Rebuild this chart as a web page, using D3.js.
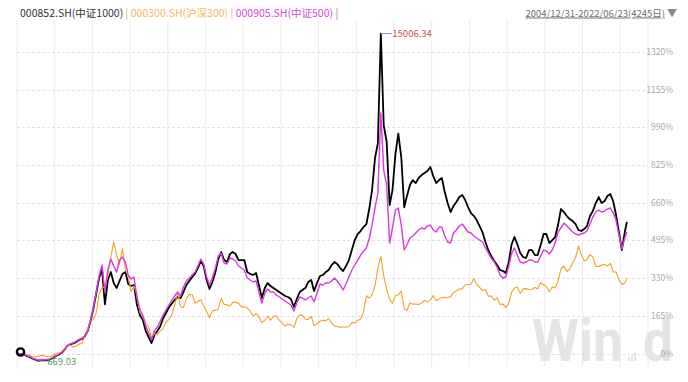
<!DOCTYPE html>
<html><head><meta charset="utf-8">
<script src="https://cdn.jsdelivr.net/npm/d3@7/dist/d3.min.js"></script>
<style>body{margin:0;background:#fff;}svg{display:block;}</style>
</head><body>
<svg id="chart" width="688" height="382"></svg>
<script>
// ---------- data ----------
const dates = [
"2005-01","2005-02","2005-03","2005-04","2005-05","2005-06","2005-07","2005-08","2005-09","2005-10","2005-11","2005-12",
"2006-01","2006-02","2006-03","2006-04","2006-05","2006-06","2006-07","2006-08","2006-09","2006-10","2006-11","2006-12",
"2007-01","2007-02","2007-03","2007-04","2007-05","2007-06","2007-07","2007-08","2007-09","2007-10","2007-11","2007-12",
"2008-01","2008-02","2008-03","2008-04","2008-05","2008-06","2008-07","2008-08","2008-09","2008-10","2008-11","2008-12",
"2009-01","2009-02","2009-03","2009-04","2009-05","2009-06","2009-07","2009-08","2009-09","2009-10","2009-11","2009-12",
"2010-01","2010-02","2010-03","2010-04","2010-05","2010-06","2010-07","2010-08","2010-09","2010-10","2010-11","2010-12",
"2011-01","2011-02","2011-03","2011-04","2011-05","2011-06","2011-07","2011-08","2011-09","2011-10","2011-11","2011-12",
"2012-01","2012-02","2012-03","2012-04","2012-05","2012-06","2012-07","2012-08","2012-09","2012-10","2012-11","2012-12",
"2013-01","2013-02","2013-03","2013-04","2013-05","2013-06","2013-07","2013-08","2013-09","2013-10","2013-11","2013-12",
"2014-01","2014-02","2014-03","2014-04","2014-05","2014-06","2014-07","2014-08","2014-09","2014-10","2014-11","2014-12",
"2015-01","2015-02","2015-03","2015-04","2015-05","2015-06","2015-07","2015-08","2015-09","2015-10","2015-11","2015-12",
"2016-01","2016-02","2016-03","2016-04","2016-05","2016-06","2016-07","2016-08","2016-09","2016-10","2016-11","2016-12",
"2017-01","2017-02","2017-03","2017-04","2017-05","2017-06","2017-07","2017-08","2017-09","2017-10","2017-11","2017-12",
"2018-01","2018-02","2018-03","2018-04","2018-05","2018-06","2018-07","2018-08","2018-09","2018-10","2018-11","2018-12",
"2019-01","2019-02","2019-03","2019-04","2019-05","2019-06","2019-07","2019-08","2019-09","2019-10","2019-11","2019-12",
"2020-01","2020-02","2020-03","2020-04","2020-05","2020-06","2020-07","2020-08","2020-09","2020-10","2020-11","2020-12",
"2021-01","2021-02","2021-03","2021-04","2021-05","2021-06","2021-07","2021-08","2021-09","2021-10","2021-11","2021-12",
"2022-01","2022-02","2022-03","2022-04","2022-05","2022-06","2022-06-23"];

// 000852.SH 中证1000 (index level, base 1000)
const csi1000 = [
1000,960,980,890,850,780,735,669.03,715,695,715,735,
800,890,935,1020,1150,1330,1395,1440,1500,1590,1635,1745,
1985,2423,2948,3626,4305,4680,3150,4217,4567,4086,3867,4173,
4480,4567,4042,3955,4000,3123,2685,2466,1985,1722,1460,1810,
1985,2204,2532,2773,3013,3189,3342,3473,3429,3692,3998,4173,
4348,4510,4742,5049,4830,4217,3823,4130,4567,5136,5443,5092,
5005,5355,5443,5355,5092,5092,5092,4567,4480,4436,4524,3998,
3429,3867,4086,3955,3867,3779,3692,3604,3517,3473,3386,3035,
3386,3692,3779,3867,4130,4217,3736,4086,4392,4436,4567,4655,
4874,5005,4918,4742,4611,4830,5092,5530,5968,6231,6362,6537,
6668,7369,8156,9557,10214,15006.34,11000,10270,7500,8156,9732,10630,
9600,7400,7900,8375,8594,8463,8682,8813,8900,8988,9163,8769,
8463,8594,8682,8069,7587,7194,7456,7631,7850,7938,7719,7412,
7150,7018,6843,6581,6318,5880,5530,5268,5049,4874,4655,4611,
4524,5005,5749,6100,5793,5399,5224,5180,5530,5530,5311,5311,
5749,6231,6231,5836,5968,6100,6624,7325,7194,7018,6887,6799,
6668,6406,6362,6449,6581,7018,7237,7587,7850,7587,7675,7894,
7981,7631,7062,6318,5530,6318,6756];

// 000300.SH 沪深300
const csi300 = [
1000,960,1005,915,930,860,870,870,920,905,865,870,
925,1000,1030,1035,1160,1325,1355,1285,1325,1400,1450,1720,
2040,2470,2480,2780,3590,3900,3890,4470,5220,5880,5300,4900,
5600,4650,4430,3700,3950,3600,2800,2710,2320,2160,1700,1870,
1820,1990,2080,2380,2480,2690,3140,3650,3050,3020,3400,3580,
3575,3200,3280,3360,3070,2850,2560,2870,2900,2940,3420,3150,
3130,3080,3240,3250,3190,3040,3040,2990,2850,2640,2750,2600,
2350,2460,2630,2460,2630,2640,2460,2330,2200,2290,2250,2140,
2520,2690,2670,2500,2480,2630,2220,2300,2410,2460,2430,2530,
2330,2200,2180,2150,2160,2160,2170,2350,2340,2450,2510,2810,
3530,3430,3570,3970,4750,5250,4400,3820,3370,3200,3530,3570,
3730,2950,2880,3220,3160,3170,3150,3200,3330,3250,3340,3540,
3310,3390,3450,3460,3440,3490,3670,3740,3820,3840,4010,4010,
4030,4280,4020,3900,3760,3800,3510,3520,3330,3440,3150,3170,
3010,3200,3670,3870,3910,3630,3830,3840,3800,3810,3890,3830,
4100,4000,3940,3690,3910,3870,4160,4700,4820,4590,4700,4960,
5210,5700,5340,5050,5120,5330,5220,4810,4810,4870,4910,4830,
4940,4560,4580,4220,4020,4090,4300];

// 000905.SH 中证500
const csi500 = [
1000,980,1000,910,870,800,760,715,740,735,740,760,
825,910,955,1045,1175,1350,1415,1460,1525,1615,1655,1765,
1985,2466,2991,3692,4392,4874,3692,4655,5136,4830,4567,5092,
5224,5005,4436,4261,4348,3429,2948,2641,2204,1897,1591,1985,
2160,2423,2685,2904,3123,3342,3517,3692,3517,3911,4173,4305,
4436,4567,4830,5136,4918,4348,3998,4305,4742,5268,5399,4961,
4918,5180,5136,5049,4830,4742,4655,4305,4217,4130,4173,3692,
3210,3648,3823,3692,3692,3560,3473,3386,3298,3210,3123,2860,
3210,3473,3429,3342,3429,3517,3254,3648,4042,3998,4086,4086,
4173,4305,4173,3998,3779,4042,4348,4655,4874,5092,5311,5486,
5618,6056,6624,7369,8025,11527,9032,8375,5836,6493,7281,7369,
6624,5530,5749,6056,6143,6274,6406,6493,6449,6581,6624,6406,
6318,6537,6537,6143,5880,5836,6274,6406,6581,6668,6493,6318,
6274,6143,6056,5968,5880,5618,5399,5180,5005,4786,4436,4305,
4348,4830,5355,5618,5311,5005,4961,5005,5092,5092,5005,5005,
5268,5530,5486,5355,5530,5836,6318,6493,6712,6581,6449,6318,
6231,6187,6231,6274,6362,6668,6975,7194,7281,7194,7237,7325,
7369,7150,6843,6187,5574,6056,6318];

const baseLevel = 1000;
const yTicks = [0,165,330,495,660,825,990,1155,1320];
const codes = ["000852.SH","000300.SH","000905.SH"];
const names = ["中证1000","沪深300","中证500"];
const dateRangeLabel = "2004/12/31-2022/06/23(4245日)";

// ---------- styles ----------
const lineColors = ["#000000","#f0a32a","#d93ad9"];
const legendColors = ["#333333","#f5b762","#d54bd5"];
const sepColors = ["#eda546","#f5b762","#d54bd5"];
const lineWidths = [1.8,1.1,1.4];
const font = "'Noto Sans CJK SC','Noto Sans',sans-serif";

const svg = d3.select("#chart");
const plot = {left:17, right:648, top:20, bottom:367};

const parse = s => s.length > 7 ? d3.timeParse("%Y-%m-%d")(s) : d3.timeParse("%Y-%m")(s);
const dts = dates.map(parse);

const x = d3.scaleTime().domain([d3.timeParse("%Y-%m-%d")("2005-01-01"), dts[dts.length-1]]).range([18, 626.9]);
const y = d3.scaleLinear().domain([0, 1320]).range([353.5, 52]);
const pct = v => (v / baseLevel - 1) * 100;

// vertical grid (decorative, evenly spaced)
const gx = d3.scaleLinear().domain([0,17]).range([plot.left, 657.9]);
svg.append("g").selectAll("line").data(d3.range(0,17)).join("line")
  .attr("x1", d=>gx(d)).attr("x2", d=>gx(d))
  .attr("y1", plot.top).attr("y2", plot.bottom)
  .attr("stroke", "#ececec").attr("stroke-width", 1);
svg.append("line").attr("x1", plot.right).attr("x2", plot.right)
  .attr("y1", plot.top).attr("y2", plot.bottom)
  .attr("stroke", "#ececec").attr("stroke-width", 1);

// watermark (behind everything else)
const wm = svg.append("g").attr("fill","#e5e5e5").attr("font-family","Roboto, 'Open Sans', sans-serif").attr("font-weight",700);
wm.append("text").attr("x",532).attr("y",361).attr("font-size",60)
  .attr("textLength",91).attr("lengthAdjust","spacingAndGlyphs").text("Win");
wm.append("text").attr("x",643).attr("y",361).attr("font-size",60)
  .attr("textLength",30).attr("lengthAdjust","spacingAndGlyphs").text("d");
const logoBars = [4,6,9];
wm.selectAll("rect").data(logoBars).join("rect")
  .attr("x",(d,i)=>628+i*3.2).attr("y",d=>361-d).attr("width",1.6).attr("height",d=>d)
  .attr("fill","#dcdcdc");

// horizontal grid + right axis labels
const yg = svg.append("g");
yg.selectAll("line").data(yTicks).join("line")
  .attr("x1", plot.left).attr("x2", plot.right)
  .attr("y1", d=>Math.round(y(d))+0.5).attr("y2", d=>Math.round(y(d))+0.5)
  .attr("stroke", "#e2e2e2").attr("stroke-dasharray","3,2");
yg.selectAll("text").data(yTicks).join("text")
  .attr("x", 673).attr("y", d=>y(d)+3)
  .attr("text-anchor","end")
  .attr("font-family", font).attr("font-size", 8.5)
  .attr("fill", "#a8a8a8")
  .text(d=>d+"%");

// lines
const series = [csi1000, csi300, csi500];
const line = d3.line().x((d,i)=>x(dts[i])).y(d=>y(pct(d)));
svg.append("g").selectAll("path").data(series).join("path")
  .attr("d", d=>line(d))
  .attr("fill","none")
  .attr("stroke", (d,i)=>lineColors[i])
  .attr("stroke-width", (d,i)=>lineWidths[i])
  .attr("stroke-linejoin","round");

// start marker
svg.append("circle")
  .attr("cx", x(dts[0])+2.5).attr("cy", y(pct(csi1000[0]))-1.5).attr("r", 3.6)
  .attr("fill","none").attr("stroke","#000").attr("stroke-width",2.4);

// max / min annotations of 000852
const iMax = d3.maxIndex(csi1000), iMin = d3.minIndex(csi1000);
const mx = x(dts[iMax]), my = y(pct(csi1000[iMax]));
svg.append("line").attr("x1",mx).attr("x2",mx+11).attr("y1",my).attr("y2",my)
  .attr("stroke","#7c9cc0").attr("stroke-width",1);
svg.append("text").attr("x",mx+11.5).attr("y",my+3.5)
  .attr("font-family",font).attr("font-size",9.5).attr("fill","#c8504a")
  .text(d3.format(".2f")(csi1000[iMax]));
const nx = x(dts[iMin]), ny = y(pct(csi1000[iMin]));
svg.append("line").attr("x1",nx-1).attr("x2",nx+8).attr("y1",ny).attr("y2",ny)
  .attr("stroke","#7c9cc0").attr("stroke-width",1);
svg.append("text").attr("x",nx+9).attr("y",ny+3.5)
  .attr("font-family",font).attr("font-size",9.5).attr("fill","#5aa05a")
  .text(d3.format(".2f")(csi1000[iMin]));

// legend
const lg = svg.append("text").attr("x",20).attr("y",16.5)
  .attr("font-family",font).attr("font-size",10.5);
codes.forEach((c,i)=>{
  lg.append("tspan").attr("fill",legendColors[i]).text(c+"("+names[i]+")");
  lg.append("tspan").attr("fill",sepColors[i]).attr("xml:space","preserve").text(" | ");
});

// date range header
svg.append("text").attr("x",665).attr("y",16.5).attr("text-anchor","end")
  .attr("font-family",font).attr("font-size",9.5).attr("fill","#6e6e6e")
  .attr("text-decoration","underline")
  .text(dateRangeLabel);
svg.append("text").attr("x",667).attr("y",16.5)
  .attr("font-family",font).attr("font-size",10).attr("fill","#8a8a8a")
  .text("▼");
</script>
</body></html>
